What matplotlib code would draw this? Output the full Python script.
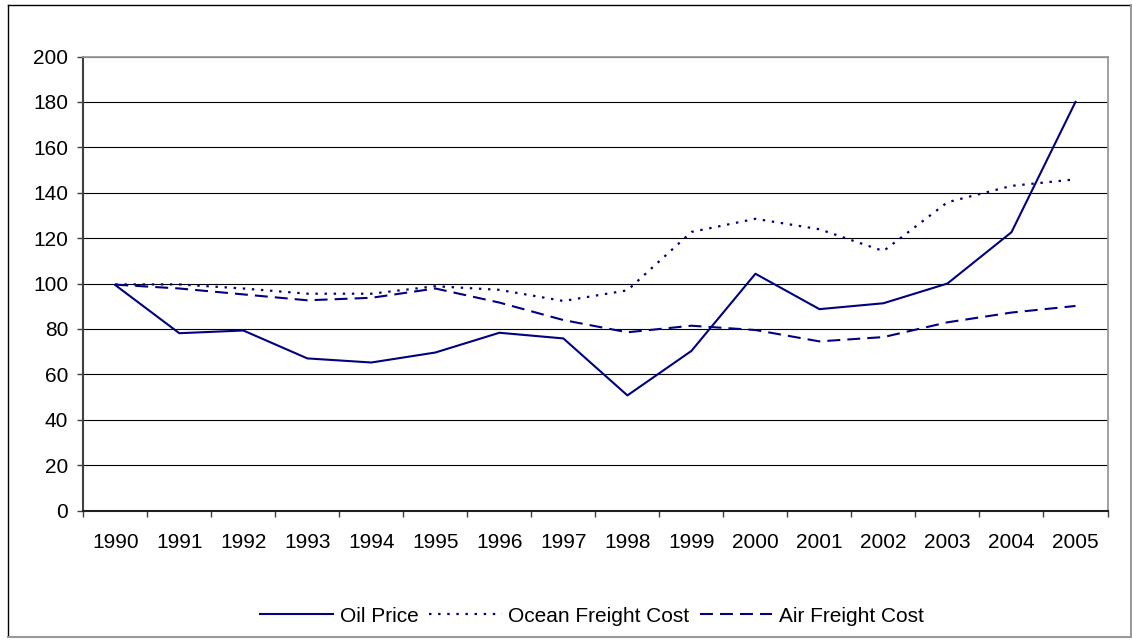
import matplotlib
matplotlib.use("Agg")
import matplotlib.pyplot as plt
from matplotlib.patches import Rectangle
from matplotlib.lines import Line2D

plt.rcParams['font.family'] = ['Liberation Sans', 'DejaVu Sans']

# data
years = [str(y) for y in range(1990, 2006)]
oil_price = [99.3, 78.1, 79.3, 67.0, 65.2, 69.6, 78.3, 75.8,
             50.7, 70.3, 104.3, 88.7, 91.3, 100.0, 122.6, 180.0]
ocean_freight = [99.6, 99.6, 97.8, 95.5, 95.5, 98.8, 97.2, 92.3,
                 97.0, 122.7, 128.5, 123.9, 114.3, 135.8, 143.0, 145.9]
air_freight = [99.5, 97.8, 95.2, 92.6, 93.7, 97.8, 91.6, 83.9,
               78.5, 81.4, 79.5, 74.5, 76.4, 82.9, 87.2, 90.1]

navy = '#000080'
W, H = 1132, 640

fig = plt.figure(figsize=(W / 100, H / 100), dpi=100)
ax = fig.add_axes([83.3 / W, 129.5 / H, 1024.2 / W, 454 / H])

x = list(range(len(years)))
ax.plot(x, oil_price, color=navy, lw=1.5, label='Oil Price')
ax.plot(x, ocean_freight, color=navy, lw=1.6, linestyle=(0, (1.1, 3.0)),
        label='Ocean Freight Cost')
ax.plot(x, air_freight, color=navy, lw=1.5, linestyle=(0, (6.2, 3.4)),
        label='Air Freight Cost')

ax.set_xlim(-0.5, len(years) - 0.5)
ax.set_ylim(0, 200)
ax.set_yticks(range(0, 201, 20))
ax.yaxis.grid(True, color='black', lw=0.8)
ax.set_axisbelow(True)

ax.set_xticks(x)
ax.set_xticklabels(years, fontsize=15)
ax.tick_params(axis='x', which='major', length=0, pad=16)
ax.set_xticks([i - 0.5 for i in range(len(years) + 1)], minor=True)
ax.tick_params(axis='x', which='minor', length=4.3, width=1.0,
               color='#404040', direction='out')
ax.tick_params(axis='y', labelsize=15, length=4, width=1.0,
               color='#404040', pad=7)

ax.spines['top'].set_color('#999999')
ax.spines['top'].set_linewidth(1.3)
ax.spines['right'].set_color('#999999')
ax.spines['right'].set_linewidth(1.3)
ax.spines['left'].set_color('#404040')
ax.spines['left'].set_linewidth(1.5)
ax.spines['bottom'].set_color('#202020')
ax.spines['bottom'].set_linewidth(1.5)

fig.legend(loc='center', bbox_to_anchor=(592 / W, 1 - 616 / H), ncol=3,
           frameon=False, fontsize=15, handlelength=3.5,
           handletextpad=0.3, columnspacing=0.5, borderpad=0)

# chart outer frame
fig.add_artist(Line2D([7.5 / W, 7.5 / W], [4.5 / H, 1 - 4.5 / H],
                      transform=fig.transFigure, color='black', lw=1.0))
fig.add_artist(Line2D([7.5 / W, 1], [1 - 4.5 / H, 1 - 4.5 / H],
                      transform=fig.transFigure, color='black', lw=1.0))
fig.add_artist(Line2D([7.5 / W, 1], [3.5 / H, 3.5 / H],
                      transform=fig.transFigure, color='#999999', lw=1.5))
fig.add_artist(Line2D([1 - 1.5 / W, 1 - 1.5 / W], [3.5 / H, 1 - 4.5 / H],
                      transform=fig.transFigure, color='#999999', lw=1.5))

fig.savefig('out.png', dpi=100)
